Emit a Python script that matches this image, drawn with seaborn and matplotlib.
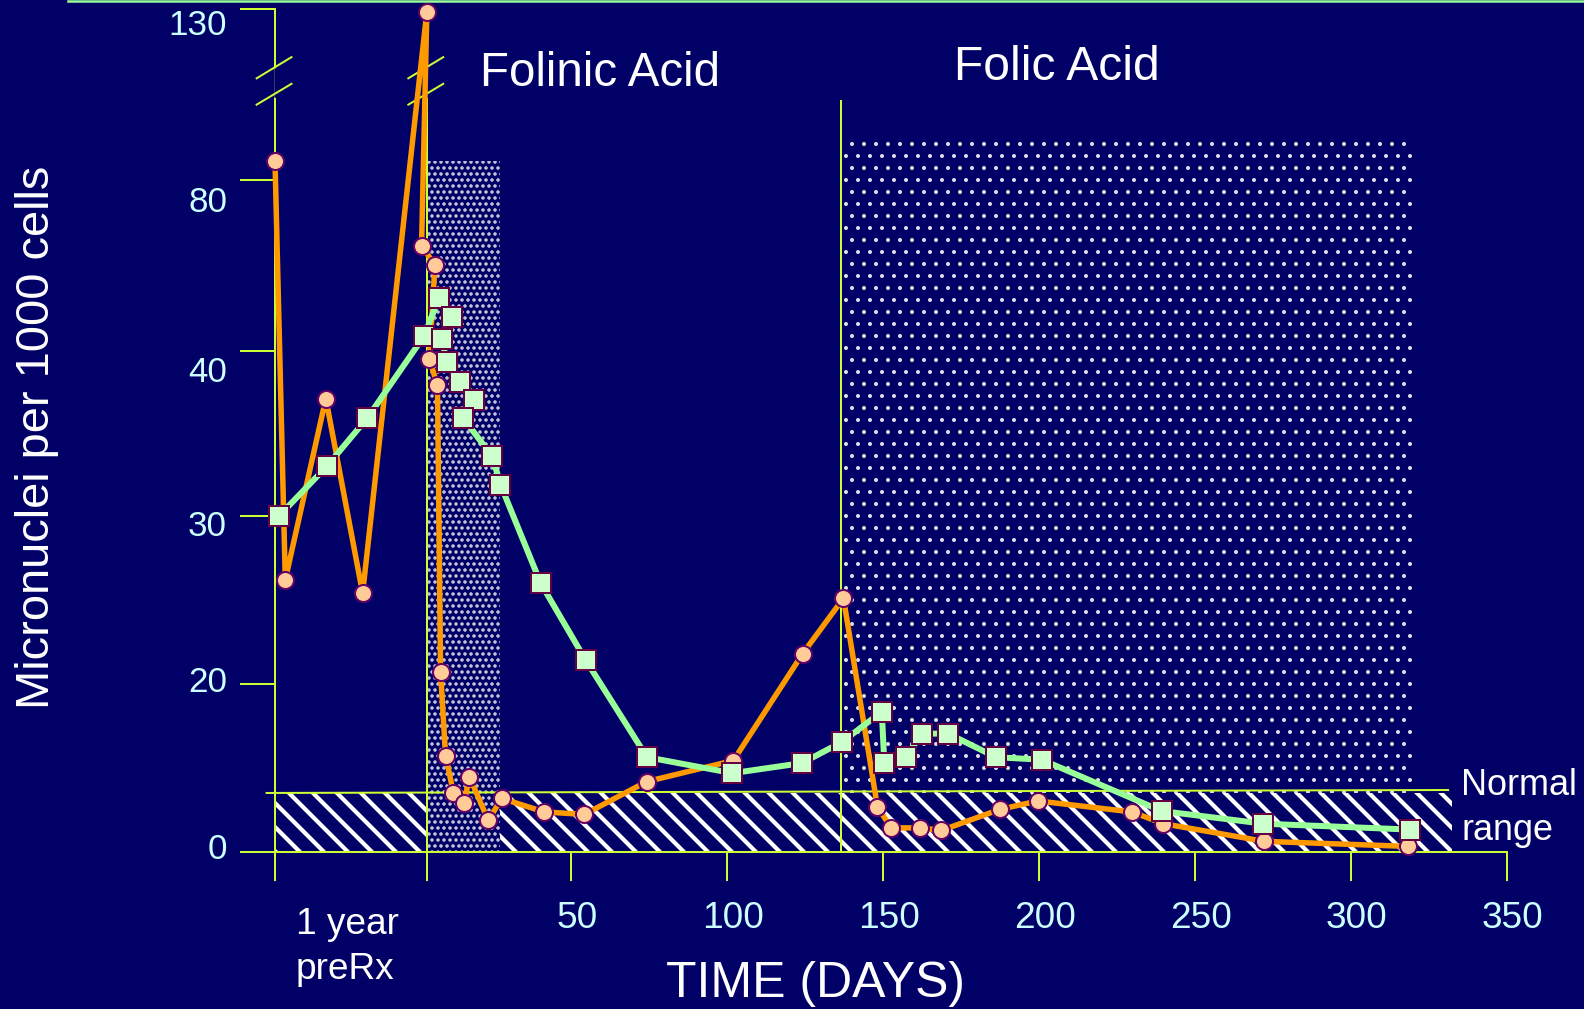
import numpy as np
import pandas as pd
import matplotlib
matplotlib.use("Agg")
import matplotlib.pyplot as plt
import matplotlib.transforms as mtransforms
from matplotlib.lines import Line2D
from matplotlib.patches import Rectangle
import seaborn as sns

# --- data (days before treatment are squeezed into the "1 year preRx" strip)
orange_days = [-45.0, -41.7, -28.7, -16.9, 3.7, 2.0, 6.3, 4.5, 7.1, 8.1, 9.7, 12.2, 15.7, 17.3,
               23.4, 27.7, 41.3, 54.2, 74.2, 102.0, 124.2, 137.3, 148.2, 152.6, 162.0, 168.7,
               187.5, 199.6, 229.8, 239.9, 272.3, 318.5]
orange_vals = [85.6, 26.2, 37.1, 25.4, 129.2, 64.5, 60.1, 39.5, 37.9, 20.7, 11.5, 7.1, 5.8, 9.0,
               3.8, 6.4, 4.8, 4.5, 8.4, 10.9, 21.8, 25.1, 5.4, 2.9, 2.9, 2.6,
               5.1, 6.1, 4.8, 3.4, 1.3, 0.7]

green_days = [-43.7, -28.4, -15.5, 2.8, 7.6, 11.9, 8.5, 10.1, 14.4, 18.7, 15.4, 24.7, 27.3,
              40.2, 54.7, 74.3, 101.7, 124.0, 136.8, 149.6, 150.4, 157.3, 162.4, 170.9,
              186.2, 200.9, 239.4, 272.0, 319.0]
green_vals = [30.0, 33.0, 35.9, 43.4, 52.3, 47.8, 42.8, 39.3, 38.1, 37.0, 35.9, 33.6, 31.9,
              26.0, 21.4, 11.3, 9.4, 10.6, 13.1, 16.7, 10.6, 11.3, 14.1, 14.1,
              11.3, 11.0, 4.9, 3.4, 2.7]

ytick_vals = [0, 20, 30, 40, 80, 130]
xtick_vals = [50, 100, 150, 200, 250, 300, 350]

prerx_day = -45.0       # the "1 year preRx" axis
start_day = 3.65        # treatment start axis
folinic_span = (3.65, 27.2, 85.4)
folic_span = (136.4, 320.0, 91.3)
folic_line_top = 103.1
normal_hi = 7.0
normal_end = 332.4

# the y axis of the slide is not linear: each labelled value sits roughly one step apart
scale_vals = [-20, 0, 20, 30, 40, 80, 130, 230]
scale_pos = [-168.3, 0, 168.3, 336.3, 501.6, 672.3, 843.3, 1185.3]


def fwd(v):
    return np.interp(v, scale_vals, scale_pos)


def inv(p):
    return np.interp(p, scale_pos, scale_vals)


navy = "#000066"
axis_col = "#ccff33"
tick_col = "#ccffff"

plt.rcParams["font.family"] = ["Liberation Sans", "DejaVu Sans"]

fig = plt.figure(figsize=(1584 / 72, 1009 / 72), dpi=72, facecolor=navy)
ax = fig.add_axes([275 / 1584, (1009 - 852.3) / 1009, (1506.7 - 275) / 1584, 852.3 / 1009])
ax.set_facecolor(navy)
ax.set_yscale("function", functions=(fwd, inv))
ax.set_xlim(prerx_day, 350)
ax.set_ylim(0, 132.6)


def band(x0, x1, y0, y1, hatch, lw, color, z):
    plt.rcParams["hatch.linewidth"] = lw
    r = Rectangle((x0, y0), x1 - x0, y1 - y0, facecolor=navy, edgecolor=color,
                  linewidth=0, hatch=hatch, zorder=z)
    if hasattr(r, "set_hatch_linewidth"):
        r.set_hatch_linewidth(lw)
    ax.add_patch(r)
    return r


band(prerx_day, normal_end, 0, normal_hi, "\\", 4.2, "white", 1.0)
band(folinic_span[0], folinic_span[1], 0, folinic_span[2], "..", 2.2, "#dcdce8", 1.2)
band(folic_span[0], folic_span[1], normal_hi, folic_span[2], ".", 1.6, "#dcdce8", 1.2)

# axis furniture of the slide
ax.plot([-47.7, 331.2], [7.05, 7.4], color=axis_col, lw=2, zorder=2, clip_on=False)
ax.plot([start_day, start_day], [0, 130], color=axis_col, lw=2, zorder=2)
ax.plot([folic_span[0], folic_span[0]], [0, folic_line_top], color=axis_col, lw=2, zorder=2)
for xc in (prerx_day, start_day):
    ax.plot([xc, xc], [104.5, 112.5], color=navy, lw=2.5, zorder=2.6, clip_on=False)
    for lo, hi in ((102.0, 108.1), (109.7, 115.9)):
        ax.plot([xc - 5.9, xc + 5.3], [lo, hi], color=axis_col, lw=2, zorder=2.7, clip_on=False)

# data
orange = pd.DataFrame({"day": orange_days, "mn": orange_vals})
green = pd.DataFrame({"day": green_days, "mn": green_vals})
sns.lineplot(data=orange, x="day", y="mn", sort=False, estimator=None, ax=ax,
             color="#ff9900", linewidth=5.5, marker="o", markersize=17,
             markerfacecolor="#ffcc99", markeredgecolor="#660066", markeredgewidth=2,
             zorder=4, clip_on=False)
sns.lineplot(data=green, x="day", y="mn", sort=False, estimator=None, ax=ax,
             color="#99ff99", linewidth=6, marker="s", markersize=20,
             markerfacecolor="#ccffcc", markeredgecolor="#660044", markeredgewidth=2,
             zorder=5, clip_on=False)

# spines and ticks
for s in ("top", "right"):
    ax.spines[s].set_visible(False)
for s in ("left", "bottom"):
    ax.spines[s].set_color(axis_col)
    ax.spines[s].set_linewidth(2)
ax.spines["left"].set_bounds(0, 130)

ax.set_yticks(ytick_vals)
ax.set_yticklabels([str(v) for v in ytick_vals])
ax.set_xticks([prerx_day, start_day] + xtick_vals)
ax.set_xticklabels(["", ""] + [str(v) for v in xtick_vals])
ax.tick_params(axis="y", direction="out", length=35, width=2, color=axis_col,
               labelcolor=tick_col, labelsize=35, pad=13)
ax.tick_params(axis="x", direction="out", length=29, width=2, color=axis_col,
               labelcolor=tick_col, labelsize=37, pad=20)
ax.set_xlabel("")
ax.set_ylabel("")
for lab in ax.get_xticklabels():
    lab.set_transform(lab.get_transform() + mtransforms.ScaledTranslation(6 / 72, 0, fig.dpi_scale_trans))
ylab_shift = {"0": 6, "20": 5, "30": -7, "40": -18, "80": -19, "130": -13}
for lab in ax.get_yticklabels():
    dy = ylab_shift.get(lab.get_text(), 0)
    lab.set_transform(lab.get_transform() + mtransforms.ScaledTranslation(0, dy / 72, fig.dpi_scale_trans))

# texts
fig.text(37 / 1584, 1 - 437 / 1009, "Micronuclei per 1000 cells", rotation=90,
         color="white", fontsize=47, ha="center", va="center")
fig.text(815 / 1584, 1 - 984 / 1009, "TIME (DAYS)", color="white", fontsize=50,
         ha="center", va="center")
fig.text(296 / 1584, 1 - 947 / 1009, "1 year\npreRx", color="white", fontsize=37,
         ha="left", va="center", linespacing=1.35)
fig.text(480 / 1584, 1 - 73 / 1009, "Folinic Acid", color="white", fontsize=47.5,
         ha="left", va="center")
fig.text(954 / 1584, 1 - 68 / 1009, "Folic Acid", color="white", fontsize=48,
         ha="left", va="center")
fig.text(1461 / 1584, 1 - 808 / 1009, "Normal\nrange", color="white", fontsize=36,
         ha="left", va="center", linespacing=1.35)

fig.add_artist(Line2D([68 / 1584, 1], [1 - 1 / 1009, 1 - 1 / 1009], color="#99ff99", lw=2.5))

fig.savefig("out.png", dpi=72, facecolor=navy)
